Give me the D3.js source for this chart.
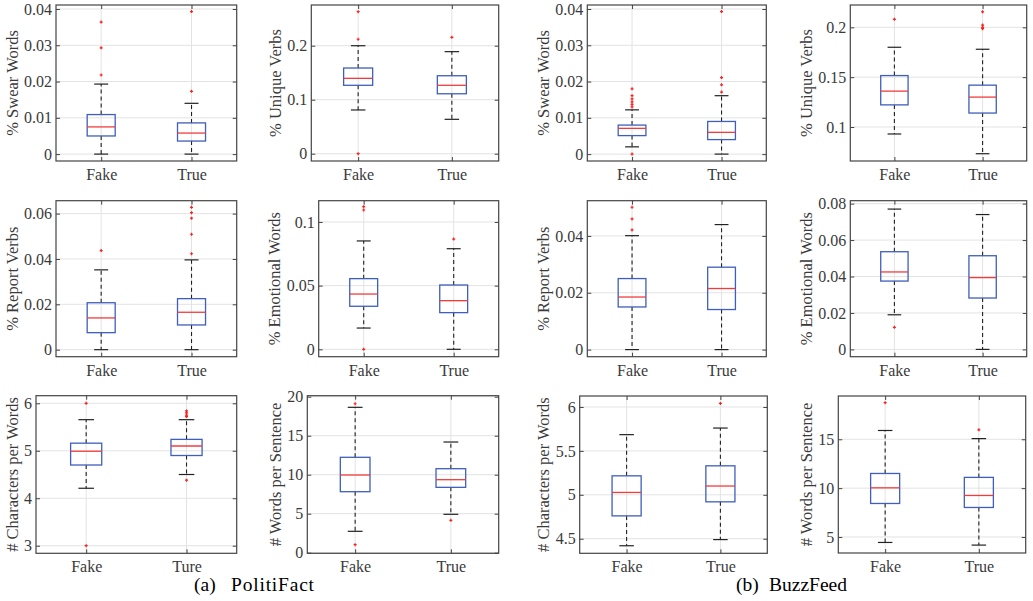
<!DOCTYPE html>
<html><head><meta charset="utf-8">
<script src="https://cdn.jsdelivr.net/npm/d3@7"></script>
<style>
body{margin:0;background:#fff}
svg text{font-family:"Liberation Serif","Times New Roman",serif !important}
</style></head>
<body><svg id="c" width="1033" height="601"></svg>
<script>
// ---------- data ----------
const categories = ["Fake", "True"];
const categoriesTypo = ["Fake", "Ture"];
// stats: [lower whisker, Q1, median, Q3, upper whisker]
const pfSwear = [[0, 0.005, 0.0075, 0.0109, 0.0193], [0, 0.0036, 0.0058, 0.0086, 0.014]];
const pfSwearOut = [[0.0364, 0.0293, 0.0218], [0.0393, 0.0173]];
const pfUnique = [[0.081, 0.1267, 0.1396, 0.1587, 0.2], [0.0637, 0.111, 0.1267, 0.1444, 0.189]];
const pfUniqueOut = [[0.263, 0.212, 0], [0.2156]];
const bfSwear = [[0.002, 0.0051, 0.0071, 0.008, 0.0122], [0, 0.004, 0.006, 0.009, 0.0161]];
const bfSwearOut = [[0.018, 0.0161, 0.0152, 0.0144, 0.0137, 0.013, 0], [0.0393, 0.0211, 0.0191, 0.0171]];
const bfUnique = [[0.093, 0.1222, 0.136, 0.1516, 0.18], [0.0732, 0.114, 0.13, 0.142, 0.178]];
const bfUniqueOut = [[0.208], [0.2156, 0.2023, 0.2, 0.1986]];
const pfReport = [[0, 0.0075, 0.014, 0.0207, 0.0352], [0, 0.0109, 0.0165, 0.0225, 0.0396]];
const pfReportOut = [[0.0437], [0.0628, 0.0604, 0.058, 0.0509, 0.0423]];
const pfEmotional = [[0.0167, 0.0338, 0.0434, 0.0555, 0.0851], [0, 0.0288, 0.0382, 0.0505, 0.079]];
const pfEmotionalOut = [[0.112, 0.1094, 0], [0.0866]];
const bfReport = [[0, 0.015, 0.0185, 0.025, 0.0401], [0, 0.0141, 0.0215, 0.029, 0.044]];
const bfReportOut = [[0.0501, 0.046, 0.0421], []];
const bfEmotional = [[0.019, 0.0375, 0.0425, 0.0536, 0.077], [0, 0.0282, 0.0394, 0.0514, 0.074]];
const bfEmotionalOut = [[0.0121], []];
const pfChars = [[4.21, 4.7, 4.99, 5.16, 5.655], [4.5, 4.9, 5.1, 5.24, 5.655]];
const pfCharsOut = [[6, 3], [5.84, 5.8, 5.75, 5.72, 4.38]];
const pfWords = [[2.74, 7.82, 9.96, 12.23, 18.64], [4.92, 8.38, 9.36, 10.77, 14.19]];
const pfWordsOut = [[19.1, 1.03], [4.15]];
const bfChars = [[4.42, 4.76, 5.027, 5.216, 5.685], [4.49, 4.92, 5.1, 5.33, 5.76]];
const bfCharsOut = [[], [6.04]];
const bfWords = [[4.44, 8.43, 10.03, 11.5, 15.9], [4.17, 8.02, 9.25, 11.1, 15.07]];
const bfWordsOut = [[18.75], [15.97]];

// tick values
const ticksSwear = [0, 0.01, 0.02, 0.03, 0.04];
const ticksPfUnique = [0, 0.1, 0.2];
const ticksBfUnique = [0.1, 0.15, 0.2];
const ticksPfReport = [0, 0.02, 0.04, 0.06];
const ticksPfEmotional = [0, 0.05, 0.1];
const ticksBfReport = [0, 0.02, 0.04];
const ticksBfEmotional = [0, 0.02, 0.04, 0.06, 0.08];
const ticksPfChars = [3, 4, 5, 6];
const ticksPfWords = [0, 5, 10, 15, 20];
const ticksBfChars = [4.5, 5, 5.5, 6];
const ticksBfWords = [5, 10, 15];

const captions = [["(a)", "PolitiFact"], ["(b)", "BuzzFeed"]];

// ---------- panels ----------
const panels = [
  {stats: pfSwear, out: pfSwearOut, label: "% Swear Words", domain: [-0.0019, 0.0411], ticks: ticksSwear, cats: categories},
  {stats: pfUnique, out: pfUniqueOut, label: "% Unique Verbs", domain: [-0.0135, 0.2754], ticks: ticksPfUnique, cats: categories},
  {stats: bfSwear, out: bfSwearOut, label: "% Swear Words", domain: [-0.0019, 0.0411], ticks: ticksSwear, cats: categories},
  {stats: bfUnique, out: bfUniqueOut, label: "% Unique Verbs", domain: [0.0659, 0.2224], ticks: ticksBfUnique, cats: categories},
  {stats: pfReport, out: pfReportOut, label: "% Report Verbs", domain: [-0.0031, 0.0657], ticks: ticksPfReport, cats: categories},
  {stats: pfEmotional, out: pfEmotionalOut, label: "% Emotional Words", domain: [-0.0058, 0.1167], ticks: ticksPfEmotional, cats: categories},
  {stats: bfReport, out: bfReportOut, label: "% Report Verbs", domain: [-0.0025, 0.0524], ticks: ticksBfReport, cats: categories},
  {stats: bfEmotional, out: bfEmotionalOut, label: "% Emotional Words", domain: [-0.004, 0.0816], ticks: ticksBfEmotional, cats: categories},
  {stats: pfChars, out: pfCharsOut, label: "# Characters per Words", domain: [2.84, 6.16], ticks: ticksPfChars, cats: categoriesTypo},
  {stats: pfWords, out: pfWordsOut, label: "# Words per Sentence", domain: [-0.08, 20.13], ticks: ticksPfWords, cats: categories},
  {stats: bfChars, out: bfCharsOut, label: "# Characters per Words", domain: [4.334, 6.125], ticks: ticksBfChars, cats: categories},
  {stats: bfWords, out: bfWordsOut, label: "# Words per Sentence", domain: [3.36, 19.43], ticks: ticksBfWords, cats: categories}
];

// plot-area rectangles (layout)
const layout = [
  {x: 56, y: 5, w: 180.7, h: 156}, {x: 311.3, y: 5, w: 187.4, h: 156},
  {x: 587.3, y: 5, w: 179, h: 156}, {x: 850.3, y: 5, w: 176.4, h: 156},
  {x: 56, y: 200.7, w: 180.7, h: 156}, {x: 318.7, y: 200.7, w: 180, h: 156},
  {x: 587.3, y: 200.7, w: 179, h: 156}, {x: 850.3, y: 200.7, w: 176.4, h: 156},
  {x: 36, y: 395.7, w: 200.7, h: 157.6}, {x: 307.3, y: 395.7, w: 191.4, h: 157.6},
  {x: 579.7, y: 396, w: 187.6, h: 157.3}, {x: 838.3, y: 396, w: 187.4, h: 157}
];

const svg = d3.select("#c");
const SERIF = '"Liberation Serif", "Times New Roman", serif';
const textCol = "#3a3a3a", frameCol = "#444", gridCol = "#e3e3e3";
const boxCol = "#3f5ebd", medCol = "#f23c3c", outCol = "#ff2020";
const fmt = v => d3.format("~g")(v);

panels.forEach((p, i) => {
  const L = layout[i];
  const g = svg.append("g").attr("transform", `translate(${L.x},${L.y})`);
  const x = d3.scalePoint().domain(p.cats.map((c, j) => j)).range([0, L.w]).padding(0.5);
  const y = d3.scaleLinear().domain(p.domain).range([L.h, 0]);

  // grid
  g.append("g").selectAll("line").data(p.ticks).join("line")
    .attr("x1", 0).attr("x2", L.w).attr("y1", d => y(d)).attr("y2", d => y(d))
    .attr("stroke", gridCol).attr("stroke-width", 1);
  g.append("g").selectAll("line").data(p.cats.map((c, j) => j)).join("line")
    .attr("x1", d => x(d)).attr("x2", d => x(d)).attr("y1", 0).attr("y2", L.h)
    .attr("stroke", gridCol).attr("stroke-width", 1);

  // y axis (left) with inner ticks
  const ya = d3.axisLeft(y).tickValues(p.ticks).tickFormat(fmt).tickSizeInner(-4).tickSizeOuter(0).tickPadding(4);
  const yg = g.append("g").call(ya).attr("font-family", null).attr("font-size", null);
  yg.select(".domain").remove();
  yg.selectAll("line").attr("stroke", frameCol);
  yg.selectAll("text").attr("fill", textCol).style("font-size", "16px").style("font-family", SERIF);
  const yr = g.append("g").attr("transform", `translate(${L.w},0)`)
    .call(d3.axisRight(y).tickValues(p.ticks).tickSizeInner(-4).tickSizeOuter(0).tickFormat(""));
  yr.select(".domain").remove();
  yr.selectAll("line").attr("stroke", frameCol);

  // x axis bottom
  const xa = d3.axisBottom(x).tickFormat(j => p.cats[j]).tickSizeInner(-4).tickSizeOuter(0).tickPadding(7.5);
  const xg = g.append("g").attr("transform", `translate(0,${L.h})`).call(xa).attr("font-family", null).attr("font-size", null);
  xg.select(".domain").remove();
  xg.selectAll("line").attr("stroke", frameCol);
  xg.selectAll("text").attr("fill", textCol).style("font-size", "16px").style("font-family", SERIF);
  const xt = g.append("g").call(d3.axisTop(x).tickSizeInner(-4).tickSizeOuter(0).tickFormat(""));
  xt.select(".domain").remove();
  xt.selectAll("line").attr("stroke", frameCol);

  // frame
  g.append("rect").attr("width", L.w).attr("height", L.h)
    .attr("fill", "none").attr("stroke", frameCol).attr("stroke-width", 1.2);

  // y label
  let maxW = 0;
  yg.selectAll("text").each(function() { maxW = Math.max(maxW, this.getBBox().width); });
  const lx = -(maxW + 16);
  g.append("text").attr("transform", `translate(${lx},${L.h / 2}) rotate(-90)`)
    .attr("text-anchor", "middle").attr("dy", "0.35em")
    .attr("fill", textCol).style("font-size", "16.5px").style("font-family", SERIF).text(p.label);

  // boxes
  const bw = L.w * 0.155;
  p.stats.forEach((s, j) => {
    const cx = x(j);
    const [lo, q1, med, q3, hi] = s;
    const bg = g.append("g");
    bg.append("line").attr("x1", cx).attr("x2", cx).attr("y1", y(q3)).attr("y2", y(hi))
      .attr("stroke", "#222").attr("stroke-dasharray", "4,3").attr("stroke-width", 1.1);
    bg.append("line").attr("x1", cx).attr("x2", cx).attr("y1", y(q1)).attr("y2", y(lo))
      .attr("stroke", "#222").attr("stroke-dasharray", "4,3").attr("stroke-width", 1.1);
    [lo, hi].forEach(v => bg.append("line").attr("x1", cx - bw / 4).attr("x2", cx + bw / 4)
      .attr("y1", y(v)).attr("y2", y(v)).attr("stroke", "#222").attr("stroke-width", 1.2));
    bg.append("rect").attr("x", cx - bw / 2).attr("width", bw)
      .attr("y", y(q3)).attr("height", y(q1) - y(q3))
      .attr("fill", "none").attr("stroke", boxCol).attr("stroke-width", 1.3);
    bg.append("line").attr("x1", cx - bw / 2).attr("x2", cx + bw / 2)
      .attr("y1", y(med)).attr("y2", y(med)).attr("stroke", medCol).attr("stroke-width", 1.3);
    bg.selectAll("path").data(p.out[j]).join("path")
      .attr("d", d => `M${cx - 1.5},${y(d)}h3M${cx},${y(d) - 1.5}v3`)
      .attr("stroke", outCol).attr("stroke-width", 1.2);
  });
});

// captions
const capX = [[194, 231], [736, 769]];
const capSpacing = [0.8, 0];
captions.forEach((c, i) => {
  svg.append("text").attr("x", capX[i][0]).attr("y", 591).style("font-size", "19.5px").style("font-family", SERIF).attr("fill", "#000").text(c[0]);
  svg.append("text").attr("x", capX[i][1]).attr("y", 591).style("font-size", "19.5px").style("font-family", SERIF)
    .style("letter-spacing", capSpacing[i] + "px").attr("fill", "#000").text(c[1]);
});
</script></body></html>
